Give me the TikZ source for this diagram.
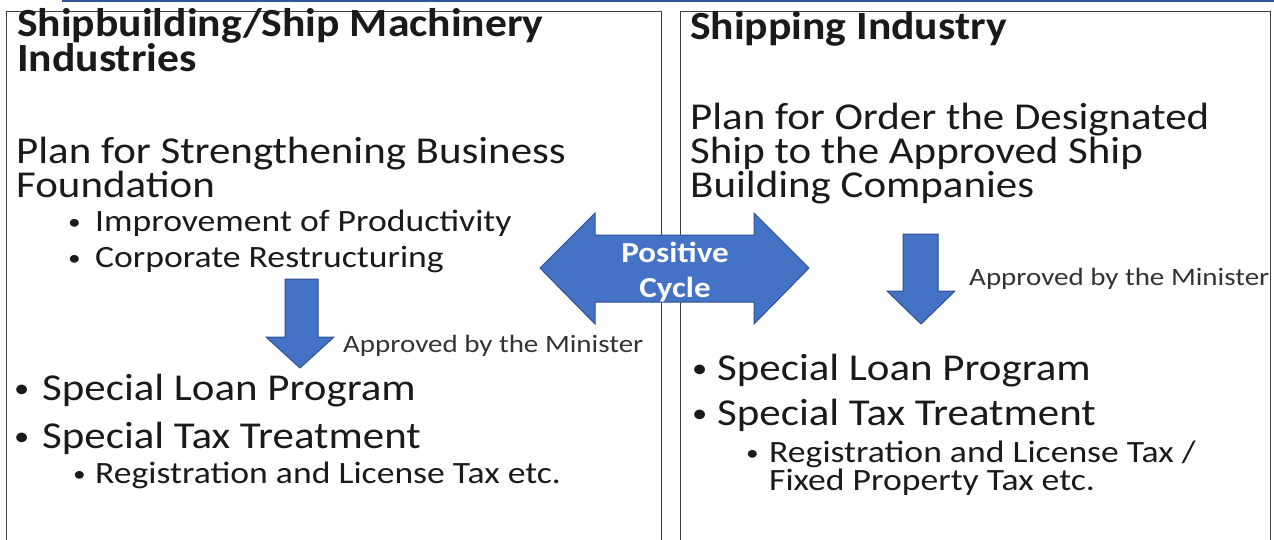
\documentclass[tikz,border=0pt]{standalone}
\usepackage{fontspec}
\setmainfont{Carlito}
\newfontfamily\headfont[FakeStretch=1.09]{Carlito}
\newfontfamily\bigfont[FakeStretch=1.13]{Carlito}
\newfontfamily\subfont[FakeStretch=1.15]{Carlito}
\newfontfamily\notefont[FakeStretch=1.16]{Carlito}
\newfontfamily\cyclefont[FakeStretch=1.14]{Carlito}
\newcommand{\smallbul}[2]{\raisebox{#2}{\fontsize{#1}{#1}\selectfont•}}
\definecolor{arrowfill}{HTML}{4472C4}
\definecolor{arrowedge}{HTML}{2F528F}
\definecolor{topline}{HTML}{2F5597}
\definecolor{boxline}{HTML}{404040}
\definecolor{txt}{HTML}{1A1A1A}
\definecolor{notetxt}{HTML}{333333}
\begin{document}
\begin{tikzpicture}[x=1pt,y=-1pt,
  txtline/.style={anchor=base west,inner sep=0pt,text=txt,align=left},
  head/.style={txtline,font=\headfont\fontsize{40}{32}\selectfont\bfseries},
  big/.style={txtline,font=\bigfont\fontsize{38}{32}\selectfont},
  sub/.style={txtline,font=\subfont\fontsize{31}{28}\selectfont},
  bigbul/.style={txtline,font=\bigfont\fontsize{38}{32}\selectfont},
  subbul/.style={txtline,font=\subfont\fontsize{31}{28}\selectfont},
  note/.style={anchor=base west,inner sep=0pt,text=notetxt,font=\notefont\fontsize{25}{25}\selectfont},
  cycle/.style={anchor=base,inner sep=0pt,text=white,align=center,font=\cyclefont\fontsize{29}{35}\selectfont\bfseries},
  blockarrow/.style={fill=arrowfill,draw=arrowedge,line width=1pt,line join=miter},
  panel/.style={draw=boxline,line width=1pt}]
\useasboundingbox (0,0) rectangle (1274,540);
% top line
\draw[topline,line width=2pt] (62,1) -- (1274,1);
% panels
\draw[panel] (6,12) rectangle (661,545);
\draw[panel] (680,12) rectangle (1270,545);
% left panel text
\node[head] (lh) at (17,72) {Shipbuilding/Ship Machinery\\Industries};
\node[big] (lp) at (16,197) {Plan for Strengthening Business\\Foundation};
\node[subbul] (lb1) at (68,232) {\smallbul{22}{2pt}};
\node[sub] (li1) at (95,232) {Improvement of Productivity};
\node[subbul] (lb2) at (68,267) {\smallbul{22}{2pt}};
\node[sub] (li2) at (95,267) {Corporate Restructuring};
\node[note] (ln) at (343,352) {Approved by the Minister};
\node[bigbul] (lb3) at (14,400) {\smallbul{27}{2.5pt}};
\node[big] (ls1) at (42,400) {Special Loan Program};
\node[bigbul] (lb4) at (14,448) {\smallbul{27}{2.5pt}};
\node[big] (ls2) at (42,448) {Special Tax Treatment};
\node[subbul] (lb5) at (73,483) {\smallbul{22}{2pt}};
\node[sub] (lt1) at (95,483) {Registration and License Tax etc.};
% right panel text
\node[head] (rh) at (690,40) {Shipping Industry};
\node[big] (rp) at (690,197) {Plan for Order the Designated\\Ship to the Approved Ship\\Building Companies};
\node[note] (rn) at (969,285) {Approved by the Minister};
\node[bigbul] (rb1) at (692,380) {\smallbul{27}{2.5pt}};
\node[big] (rs1) at (717,380) {Special Loan Program};
\node[bigbul] (rb2) at (692,425) {\smallbul{27}{2.5pt}};
\node[big] (rs2) at (717,425) {Special Tax Treatment};
\node[subbul] (rb3) at (746,462) {\smallbul{22}{2pt}};
\node[sub] (rt) at (769,490) {Registration and License Tax /\\Fixed Property Tax etc.};
% left down arrow
\draw[blockarrow] (285,279) -- (318,279) -- (318,337) -- (334,337) -- (300,368) -- (266,337) -- (285,337) -- cycle;
% right down arrow
\draw[blockarrow] (903,234) -- (938,234) -- (938,291) -- (955,291) -- (921,324) -- (887,291) -- (903,291) -- cycle;
% double arrow
\draw[blockarrow] (540,268) -- (595,213) -- (595,235) -- (754,235) -- (754,213) -- (809,268) -- (754,324) -- (754,302) -- (595,302) -- (595,324) -- cycle;
\node[cycle] (pc) at (675,297) {Positive\\Cycle};
\end{tikzpicture}
\end{document}
